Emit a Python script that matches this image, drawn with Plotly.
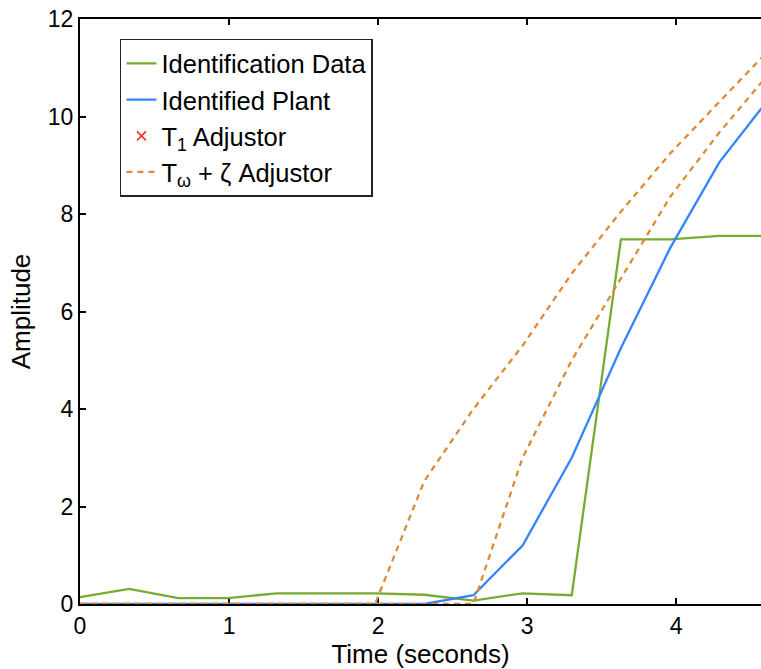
import plotly.graph_objects as go

# ---- data ----
time = [0, 0.33, 0.66, 0.99, 1.32, 1.65, 1.98, 2.31, 2.64, 2.97, 3.3, 3.63, 3.96, 4.29, 4.62]
ident_data = [0.14, 0.31, 0.12, 0.12, 0.22, 0.22, 0.22, 0.19, 0.07, 0.22, 0.18, 7.48, 7.48, 7.55, 7.55]
ident_plant = [0, 0, 0, 0, 0, 0, 0, 0, 0.18, 1.2, 3.0, 5.25, 7.3, 9.06, 10.35]
t1_time = [None]
t1_values = [None]
tw_zeta_a = [0, 0, 0, 0, 0, 0, 0, 2.52, 4.0, 5.3, 6.78, 8.05, 9.24, 10.3, 11.35]
tw_zeta_b = [0, 0, 0, 0, 0, 0, 0, 0, 0, 3.0, 5.0, 6.68, 8.35, 9.67, 10.87]

x_ticks = [0, 1, 2, 3, 4]
y_ticks = [0, 2, 4, 6, 8, 10, 12]

GREEN = "#77AC30"
BLUE = "#3384FF"
ORANGE = "#DD8A35"
RED = "#FF3B30"
FONT = "Liberation Sans, Arial, Helvetica, sans-serif"

fig = go.Figure()
fig.add_trace(go.Scatter(x=time, y=ident_data, mode="lines", name="Identification Data",
                         line=dict(color=GREEN, width=2.3)))
fig.add_trace(go.Scatter(x=time, y=ident_plant, mode="lines", name="Identified Plant",
                         line=dict(color=BLUE, width=2.3)))
fig.add_trace(go.Scatter(x=t1_time, y=t1_values, mode="markers", name="T<sub>1</sub> Adjustor",
                         marker=dict(symbol="x-thin", size=9, line=dict(color=RED, width=1.8), color=RED)))
fig.add_trace(go.Scatter(x=time, y=tw_zeta_a, mode="lines", name="T<sub>ω</sub> + ζ Adjustor",
                         legendgroup="tw", line=dict(color=ORANGE, width=2.3, dash="6px,5px")))
fig.add_trace(go.Scatter(x=time, y=tw_zeta_b, mode="lines", name="T<sub>ω</sub> + ζ Adjustor",
                         legendgroup="tw", showlegend=False,
                         line=dict(color=ORANGE, width=2.3, dash="6px,5px")))

fig.update_layout(
    width=761, height=669,
    margin=dict(l=80, r=0, t=19, b=65),
    plot_bgcolor="white", paper_bgcolor="white",
    font=dict(family=FONT, size=23, color="black"),
    showlegend=True,
    legend=dict(x=0.0587, y=0.966, xanchor="left", yanchor="top",
                bgcolor="white", bordercolor="#222", borderwidth=1.5,
                font=dict(family=FONT, size=25.5, color="black"),
                tracegroupgap=0, itemwidth=30),
    xaxis=dict(range=[0, 4.57], tickvals=x_ticks, ticktext=[str(v) for v in x_ticks],
               ticks="inside", ticklen=6, tickwidth=1.5, tickcolor="black",
               showline=True, linecolor="black", linewidth=2, mirror="ticks",
               showgrid=False, zeroline=False, ticklabeloverflow="allow",
               layer="below traces",
               title=dict(text="Time (seconds)", font=dict(size=26), standoff=4)),
    yaxis=dict(range=[0, 12], tickvals=y_ticks, ticktext=[str(v) for v in y_ticks],
               ticks="inside", ticklen=6, tickwidth=1.5, tickcolor="black",
               showline=True, linecolor="black", linewidth=2, mirror=False,
               showgrid=False, zeroline=False, ticklabeloverflow="allow",
               layer="below traces",
               title=dict(text="Amplitude", font=dict(size=26), standoff=10)),
)

fig.write_html(
    "out.html",
    config={"displayModeBar": False},
    post_script="document.body.style.margin='0px';document.body.style.overflow='hidden';",
)
